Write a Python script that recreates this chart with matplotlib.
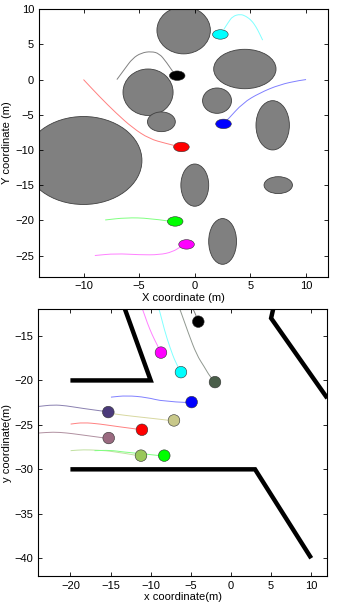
import matplotlib
matplotlib.use("Agg")
import matplotlib.pyplot as plt
from matplotlib.patches import Ellipse, PathPatch
from matplotlib.path import Path

plt.rcParams['font.family'] = ['Liberation Sans', 'DejaVu Sans']

# ---------------- Top panel data ----------------
obs_x = [-1.0, 4.5, -4.2, 2.0, -3.0, 7.0, -10.0, 0.0, 7.5, 2.5]
obs_y = [7.0, 1.5, -1.8, -3.0, -6.0, -6.5, -11.5, -15.0, -15.0, -23.0]
obs_w = [4.8, 5.6, 4.5, 2.6, 2.5, 3.0, 10.5, 2.5, 2.55, 2.5]
obs_h = [6.7, 5.6, 6.6, 3.6, 2.8, 7.0, 12.5, 6.0, 2.4, 6.5]

top_robot_x = [2.3, -1.58, 2.58, -1.2, -1.76, -0.74]
top_robot_y = [6.41, 0.55, -6.3, -9.58, -20.16, -23.42]
top_robot_colors = ['#00ffff', '#000000', '#0000ff', '#ff0000', '#00ff00', '#ff00ff']
top_traj_colors = ['#80ffff', '#808080', '#8080ff', '#ff8080', '#80ff80', '#ff80ff']

top_traj_x = [
    [2.6, 3.0, 3.4, 4.1, 4.6, 5.1, 5.5, 5.8, 6.1],
    [-7.0, -6.3, -5.6, -4.8, -3.9, -3.2, -2.6, -2.0],
    [2.6, 2.97, 4.32, 5.83, 7.63, 9.43, 10.0],
    [-10.0, -8.59, -7.09, -5.59, -4.08, -2.58, -1.83],
    [-8.05, -6.19, -4.08, -2.43],
    [-8.98, -7.09, -4.98, -3.18, -1.98, -1.23, -0.9],
]
top_traj_y = [
    [7.1, 8.1, 9.0, 9.3, 9.0, 8.4, 7.5, 6.6, 5.6],
    [0.0, 1.5, 3.0, 3.8, 4.0, 3.7, 2.6, 1.2],
    [-6.2, -5.68, -3.32, -1.9, -0.72, -0.11, 0.0],
    [0.0, -2.38, -4.74, -6.86, -8.42, -9.08, -9.37],
    [-19.95, -19.62, -19.7, -20.09],
    [-25.0, -24.72, -24.9, -24.9, -24.48, -23.7, -23.4],
]
top_xticks = [-10, -5, 0, 5, 10]
top_yticks = [-25, -20, -15, -10, -5, 0, 5, 10]

# ---------------- Bottom panel data ----------------
walls_x = [[-14, -10, -20], [-20, 3, 10], [5.5, 5, 12]]
walls_y = [[-10, -20, -20], [-30, -30, -40], [-11, -13, -22]]

bot_robot_x = [-4.07, -8.72, -6.23, -1.99, -4.9, -15.28, -7.1, -11.09, -15.23, -11.21, -8.31]
bot_robot_y = [-13.39, -16.87, -19.07, -20.19, -22.44, -23.56, -24.5, -25.55, -26.48, -28.46, -28.46]
bot_robot_colors = ['#000000', '#ff00ff', '#00ffff', '#4a5e4a', '#0000ff', '#4b3a7a',
                    '#c8c88a', '#ff0000', '#9a6a80', '#9ac85a', '#00ff00']
bot_traj_colors = ['#808080', '#ff80ff', '#80ffff', '#909890', '#8080ff', '#8a80b0',
                   '#d8d8a0', '#ff8080', '#b090a0', '#c0e0a0', '#80ff80']
bot_traj_x = [
    [-5.0, -4.7, -4.3, -4.1],
    [-11.3, -11.0, -10.4, -9.8, -9.2, -8.75],
    [-9.2, -8.93, -8.3, -7.6, -6.9, -6.3],
    [-6.6, -6.35, -5.3, -4.27, -3.3, -2.62, -2.1],
    [-14.95, -12.99, -10.5, -8.43, -5.52],
    [-24.0, -22.13, -20.5, -18.8, -15.69],
    [-14.66, -13.0, -11.33, -9.5, -7.6],
    [-19.97, -18.4, -16.3, -14.24, -11.75],
    [-24.0, -22.13, -20.5, -18.8, -15.69],
    [-19.97, -18.4, -16.5, -14.66, -11.75],
    [-17.0, -15.0, -13.41, -11.0, -8.84],
]
bot_traj_y = [
    [-11.5, -12.0, -12.8, -13.3],
    [-11.5, -12.0, -13.6, -14.9, -16.0, -16.8],
    [-11.5, -12.0, -14.3, -16.3, -18.0, -19.0],
    [-11.5, -12.0, -14.7, -17.13, -18.5, -19.56, -20.1],
    [-21.88, -21.7, -21.9, -22.37, -22.48],
    [-22.93, -22.74, -22.85, -23.11, -23.49],
    [-23.75, -23.95, -24.12, -24.3, -24.5],
    [-24.91, -24.73, -24.9, -25.18, -25.47],
    [-25.92, -25.8, -25.9, -26.1, -26.48],
    [-27.9, -27.79, -27.85, -27.98, -28.43],
    [-27.9, -27.85, -28.05, -28.25, -28.46],
]
bot_xticks = [-20, -15, -10, -5, 0, 5, 10]
bot_yticks = [-40, -35, -30, -25, -20, -15]


def smooth_curve(ax, xs, ys, color):
    """Draw the read points as a smooth quadratic-Bezier curve."""
    pts = list(zip(xs, ys))
    verts = [pts[0]]
    codes = [Path.MOVETO]
    if len(pts) == 2:
        verts.append(pts[1]); codes.append(Path.LINETO)
    else:
        mid = lambda a, b: ((a[0] + b[0]) / 2, (a[1] + b[1]) / 2)
        verts.append(mid(pts[0], pts[1])); codes.append(Path.LINETO)
        for i in range(1, len(pts) - 1):
            verts.append(pts[i]); codes.append(Path.CURVE3)
            end = mid(pts[i], pts[i + 1]) if i < len(pts) - 2 else pts[-1]
            verts.append(end); codes.append(Path.CURVE3)
    ax.add_patch(PathPatch(Path(verts, codes), facecolor='none', edgecolor=color,
                           lw=0.7, zorder=2))


fig = plt.figure(figsize=(3.42, 6.12), dpi=100)


def style(ax):
    ax.tick_params(direction='in', top=True, right=True, labelsize=8, length=3, width=0.6)
    for s in ax.spines.values():
        s.set_linewidth(0.8)


def minus(ts):
    return [str(t).replace('-', '\u2212') for t in ts]


# Top
ax1 = fig.add_axes([0.114, 0.548, 0.846, 0.437])
for x, y, w, h in zip(obs_x, obs_y, obs_w, obs_h):
    ax1.add_patch(Ellipse((x, y), w, h, facecolor='#808080', edgecolor='#404040', lw=0.6, zorder=1))
for xs, ys, c in zip(top_traj_x, top_traj_y, top_traj_colors):
    smooth_curve(ax1, xs, ys, c)
for x, y, c in zip(top_robot_x, top_robot_y, top_robot_colors):
    ax1.add_patch(Ellipse((x, y), 1.4, 1.35, facecolor=c, edgecolor='#303030', lw=0.4, zorder=3))
ax1.set_xlim(-14, 12)
ax1.set_ylim(-28, 10)
ax1.set_xticks(top_xticks)
ax1.set_yticks(top_yticks)
ax1.set_xticklabels(minus(top_xticks))
ax1.set_yticklabels(minus(top_yticks))
ax1.set_xlabel('X coordinate (m)', fontsize=8, labelpad=1)
ax1.set_ylabel('Y coordinate (m)', fontsize=8, labelpad=2)
style(ax1)

# Bottom
ax2 = fig.add_axes([0.112, 0.0588, 0.845, 0.4358])
for xs, ys in zip(walls_x, walls_y):
    ax2.plot(xs, ys, color='black', lw=3.2, solid_capstyle='butt', solid_joinstyle='miter', zorder=1)
for xs, ys, c in zip(bot_traj_x, bot_traj_y, bot_traj_colors):
    smooth_curve(ax2, xs, ys, c)
for x, y, c in zip(bot_robot_x, bot_robot_y, bot_robot_colors):
    ax2.add_patch(Ellipse((x, y), 1.45, 1.3, facecolor=c, edgecolor='#303030', lw=0.4, zorder=3))
ax2.set_xlim(-24, 12)
ax2.set_ylim(-42, -12)
ax2.set_xticks(bot_xticks)
ax2.set_yticks(bot_yticks)
ax2.set_xticklabels(minus(bot_xticks))
ax2.set_yticklabels(minus(bot_yticks))
ax2.set_xlabel('x coordinate(m)', fontsize=8, labelpad=1)
ax2.set_ylabel('y coordinate(m)', fontsize=8, labelpad=2)
style(ax2)

fig.savefig('out.png', dpi=100)
